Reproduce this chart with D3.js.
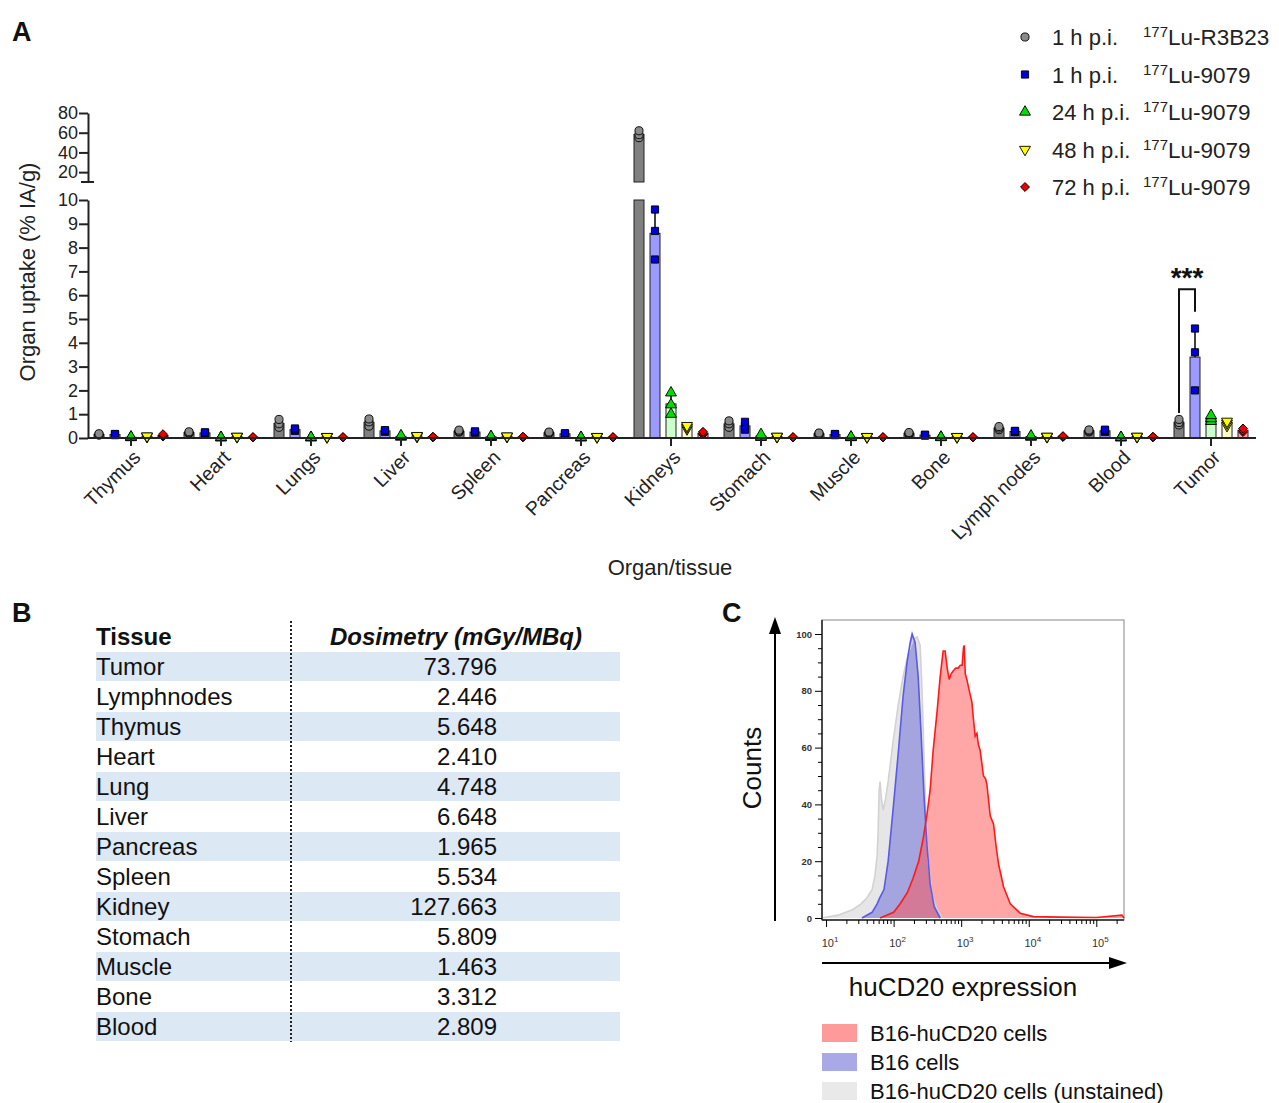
<!DOCTYPE html>
<html>
<head>
<meta charset="utf-8">
<script src="https://cdn.jsdelivr.net/npm/d3@7"></script>
<style>
  body { margin: 0; background: #fff; }
  svg { font-family: "Liberation Sans", Arial, sans-serif; }
</style>
</head>
<body>
<svg id="fig" width="1279" height="1103"></svg>
<script>
// ---- Panel A data: organ uptake (% IA/g), three animals per group ----
const organs = ["Thymus", "Heart", "Lungs", "Liver", "Spleen", "Pancreas", "Kidneys",
                "Stomach", "Muscle", "Bone", "Lymph nodes", "Blood", "Tumor"];
const seriesTime = ["1 h p.i.", "1 h p.i.", "24 h p.i.", "48 h p.i.", "72 h p.i."];
const seriesTracer = ["Lu-R3B23", "Lu-9079", "Lu-9079", "Lu-9079", "Lu-9079"];

const r3b23_1h = [[0.12,0.15,0.18],[0.2,0.22,0.26],[0.45,0.6,0.78],[0.5,0.68,0.8],[0.25,0.28,0.33],
  [0.19,0.22,0.25],[55,58,62],[0.45,0.6,0.72],[0.15,0.18,0.21],[0.17,0.2,0.23],[0.35,0.42,0.48],
  [0.26,0.3,0.34],[0.55,0.65,0.78]];
const lu9079_1h = [[0.12,0.15,0.17],[0.18,0.22,0.24],[0.3,0.35,0.4],[0.26,0.3,0.33],[0.22,0.25,0.28],
  [0.15,0.18,0.2],[7.5,8.7,9.6],[0.35,0.5,0.68],[0.12,0.15,0.17],[0.1,0.12,0.14],[0.24,0.28,0.3],
  [0.25,0.3,0.35],[2.0,3.6,4.6]];
const lu9079_24h = [[0.02,0.03,0.05],[0.01,0.02,0.03],[0.01,0.02,0.03],[0.04,0.07,0.1],[0.03,0.05,0.07],
  [0.01,0.02,0.03],[1.0,1.4,1.9],[0.03,0.05,0.15],[0.02,0.03,0.05],[0.02,0.03,0.04],[0.04,0.06,0.09],
  [0.01,0.02,0.03],[0.7,0.82,0.95]];
const lu9079_48h = [[0.06,0.07,0.08],[0.05,0.06,0.07],[0.04,0.05,0.06],[0.06,0.08,0.1],[0.06,0.07,0.08],
  [0.04,0.05,0.06],[0.38,0.45,0.52],[0.05,0.06,0.07],[0.04,0.05,0.06],[0.04,0.05,0.06],[0.05,0.06,0.07],
  [0.05,0.06,0.07],[0.52,0.62,0.7]];
const lu9079_72h = [[0.06,0.1,0.16],[0.02,0.03,0.04],[0.02,0.03,0.04],[0.03,0.04,0.05],[0.03,0.04,0.05],
  [0.02,0.03,0.04],[0.15,0.2,0.26],[0.02,0.03,0.04],[0.02,0.03,0.04],[0.02,0.03,0.04],[0.04,0.06,0.08],
  [0.03,0.04,0.05],[0.25,0.32,0.4]];
const allSeries = [r3b23_1h, lu9079_1h, lu9079_24h, lu9079_48h, lu9079_72h];

const lowTicks = [0,1,2,3,4,5,6,7,8,9,10];
const highTicks = [20,40,60,80];
// significance bracket: tumor, 1 h R3B23 vs 1 h 9079
const sigBracket = { organ: "Tumor", from: 0, to: 1, top: 6.25, leftEnd: 1.05, rightEnd: 5.3, label: "***" };

// ---- Panel B data ----
const tissues = ["Tumor", "Lymphnodes", "Thymus", "Heart", "Lung", "Liver", "Pancreas",
                 "Spleen", "Kidney", "Stomach", "Muscle", "Bone", "Blood"];
const dosimetry = [73.796, 2.446, 5.648, 2.410, 4.748, 6.648, 1.965, 5.534, 127.663, 5.809, 1.463, 3.312, 2.809];

// ---- Panel C data: flow cytometry histograms [huCD20 expression, % of max] ----
const unstained = [[8.7,0],[15,1],[25,3],[33,5],[40,7],[48,10],[53,15],[57,22],[59,30],[61,45],[63,48],
  [66,42],[70,38],[76,42],[83,48],[98,62],[117,75],[138,85],[164,93],[194,98],[223,99],[247,96],
  [264,80],[283,55],[303,35],[324,20],[372,8],[441,3],[523,0]];
const b16 = [[34,0],[48,2],[57,5],[62,7],[65,8],[72,10],[83,20],[98,38],[117,58],[138,78],[158,90],
  [176,97],[188,100],[208,97],[231,85],[255,65],[283,42],[313,25],[347,12],[398,4],[489,0]];
const b16huCD20 = [[63,0],[100,2],[125,5],[160,9],[194,14],[235,20],[274,28],[310,36],[347,45],[385,59],
  [441,73],[489,85],[541,94],[579,94],[621,88],[664,84],[710,86],[761,87],[830,88],[903,88],[970,89],
  [1035,89],[1080,95],[1107,96],[1150,86],[1213,84],[1320,80],[1441,76],[1520,70],[1612,64],[1709,65],
  [1800,61],[1911,59],[2140,50],[2300,49],[2403,47],[2691,36],[3015,33],[3300,25],[3574,19],[4238,11],
  [5325,5],[7482,1.7],[11670,0.5],[30000,0.3],[100000,0.2],[240000,1],[257000,0]];
const histLegend = ["B16-huCD20 cells", "B16 cells", "B16-huCD20 cells (unstained)"];

const svg = d3.select("#fig");

// ================= Panel A =================
const barFill = ["#808080", "#9a9aff", "#ccffcc", "#ffffcc", "#ff9f9f"];
const dotFill = ["#8a8a8a", "#0000d8", "#00dd00", "#ffff00", "#ee0000"];
const symType = [d3.symbolCircle, d3.symbolSquare, d3.symbolTriangle, d3.symbolTriangle, d3.symbolSquare];
const symRot = [0, 0, 0, 180, 45];

const x0 = d3.scaleBand().domain(organs).range([86, 1256]);
const x1 = d3.scaleBand().domain(d3.range(5)).range([-40, 40]);
const barW = 10;
const yLow = d3.scaleLinear().domain([0, 10]).range([438, 200]);
const yHigh = d3.scaleLinear().domain([10, 80]).range([182, 113]);
const yA = v => v <= 10 ? yLow(v) : yHigh(v);
const cx = (organ, s) => x0(organ) + x0.bandwidth() / 2 + x1(s) + x1.bandwidth() / 2;

const gA = svg.append("g");

// bars
allSeries.forEach((ser, s) => {
  ser.forEach((pts, j) => {
    const m = d3.mean(pts);
    const xc = cx(organs[j], s);
    if (m <= 10) {
      gA.append("rect").attr("x", xc - barW / 2).attr("y", yLow(m))
        .attr("width", barW).attr("height", yLow(0) - yLow(m))
        .attr("fill", barFill[s]).attr("stroke", "#222").attr("stroke-width", 1);
    } else {
      gA.append("rect").attr("x", xc - barW / 2).attr("y", yLow(10))
        .attr("width", barW).attr("height", yLow(0) - yLow(10))
        .attr("fill", barFill[s]).attr("stroke", "#222").attr("stroke-width", 1);
      gA.append("rect").attr("x", xc - barW / 2).attr("y", yHigh(m))
        .attr("width", barW).attr("height", yHigh(10) - yHigh(m))
        .attr("fill", barFill[s]).attr("stroke", "#222").attr("stroke-width", 1);
    }
  });
});

// error bars (mean + SD) and points
allSeries.forEach((ser, s) => {
  ser.forEach((pts, j) => {
    const m = d3.mean(pts), sd = d3.deviation(pts);
    const xc = cx(organs[j], s);
    gA.append("line").attr("x1", xc).attr("x2", xc).attr("y1", yA(m)).attr("y2", yA(m + sd))
      .attr("stroke", "#000").attr("stroke-width", 1.5);
    gA.append("line").attr("x1", xc - 3).attr("x2", xc + 3).attr("y1", yA(m + sd)).attr("y2", yA(m + sd))
      .attr("stroke", "#000").attr("stroke-width", 1.5);
    gA.selectAll(null).data(pts).enter().append("path")
      .attr("d", d3.symbol().type(symType[s]).size(s === 4 ? 40 : 52))
      .attr("transform", d => `translate(${xc},${yA(d)}) rotate(${symRot[s]})`)
      .attr("fill", dotFill[s]).attr("stroke", "#000").attr("stroke-width", 0.9);
  });
});

// axes
const axLow = gA.append("g").attr("transform", "translate(88,0)")
  .call(d3.axisLeft(yLow).tickValues(lowTicks).tickSize(9).tickSizeOuter(0));
const axHigh = gA.append("g").attr("transform", "translate(88,0)")
  .call(d3.axisLeft(yHigh).tickValues(highTicks).tickSize(9).tickSizeOuter(0));
[axLow, axHigh].forEach(a => {
  a.selectAll("path,line").attr("stroke", "#222").attr("stroke-width", 2);
  a.selectAll("text").style("font-size", "18px").attr("fill", "#222").attr("dx", "2px");
});
gA.append("line").attr("x1", 81).attr("x2", 94).attr("y1", yHigh(10)).attr("y2", yHigh(10))
  .attr("stroke", "#222").attr("stroke-width", 2);

const axX = gA.append("g").attr("transform", `translate(0,${yLow(0)})`)
  .call(d3.axisBottom(x0).tickSize(8).tickSizeOuter(0).tickFormat(""));
axX.select(".domain").attr("d", "M88,0H1256").attr("stroke", "#222").attr("stroke-width", 2);
axX.selectAll("line").attr("stroke", "#222").attr("stroke-width", 2);

gA.selectAll(".xlab").data(organs).enter().append("text")
  .attr("transform", d => `translate(${x0(d) + x0.bandwidth() / 2 + 1},${yLow(0) + 11}) rotate(-45)`)
  .attr("text-anchor", "end").attr("dy", "0.7em")
  .style("font-size", "19.5px").attr("fill", "#222").text(d => d);

gA.append("text").attr("transform", "translate(35,272) rotate(-90)").attr("text-anchor", "middle")
  .style("font-size", "22px").attr("fill", "#222").text("Organ uptake (% IA/g)");
gA.append("text").attr("x", 670).attr("y", 575).attr("text-anchor", "middle")
  .style("font-size", "22px").attr("fill", "#222").text("Organ/tissue");

// significance bracket
{
  const xl = cx(sigBracket.organ, sigBracket.from), xr = cx(sigBracket.organ, sigBracket.to);
  gA.append("path")
    .attr("d", `M${xl},${yA(sigBracket.leftEnd)}V${yA(sigBracket.top)}H${xr}V${yA(sigBracket.rightEnd)}`)
    .attr("fill", "none").attr("stroke", "#111").attr("stroke-width", 2);
  gA.append("text").attr("x", (xl + xr) / 2).attr("y", yA(sigBracket.top) - 2)
    .attr("text-anchor", "middle").style("font-size", "28px").style("font-weight", "bold")
    .attr("fill", "#111").text(sigBracket.label);
}

// legend
const legA = gA.append("g");
seriesTime.forEach((t, s) => {
  const yy = 37 + s * 37.5;
  legA.append("path").attr("d", d3.symbol().type(symType[s]).size(s === 4 ? 40 : 52))
    .attr("transform", `translate(1025,${yy}) rotate(${symRot[s]})`)
    .attr("fill", dotFill[s]).attr("stroke", "#000").attr("stroke-width", 0.9);
  legA.append("text").attr("x", 1052).attr("y", yy + 8).style("font-size", "22px").attr("fill", "#222").text(t);
  const tt = legA.append("text").attr("x", 1143).attr("y", yy + 8).style("font-size", "22.5px").attr("fill", "#222");
  tt.append("tspan").attr("dy", "-8").style("font-size", "15px").text("177");
  tt.append("tspan").attr("dy", "8").text(seriesTracer[s]);
});

// panel letters
[["A", 12, 41], ["B", 12, 622], ["C", 722, 622]].forEach(([l, xx, yy]) => {
  svg.append("text").attr("x", xx).attr("y", yy).style("font-size", "27px")
    .style("font-weight", "bold").attr("fill", "#111").text(l);
});

// ================= Panel B =================
const gB = svg.append("g");
const rowY = d3.scaleBand().domain(d3.range(tissues.length)).range([652, 652 + 30 * tissues.length]);
gB.selectAll(".band").data(tissues).enter().filter((d, i) => i % 2 === 0).append("rect")
  .attr("x", 96).attr("width", 524).attr("y", (d) => rowY(tissues.indexOf(d))).attr("height", 29)
  .attr("fill", "#dde8f5");
gB.append("text").attr("x", 96).attr("y", 645).style("font-size", "24px").style("font-weight", "bold")
  .attr("fill", "#111").text("Tissue");
gB.append("text").attr("x", 456).attr("y", 645).attr("text-anchor", "middle").style("font-size", "24px")
  .style("font-weight", "bold").style("font-style", "italic").attr("fill", "#111").text("Dosimetry (mGy/MBq)");
gB.selectAll(".tn").data(tissues).enter().append("text")
  .attr("x", 96).attr("y", (d, i) => rowY(i) + 23).style("font-size", "24px").attr("fill", "#111").text(d => d);
gB.selectAll(".tv").data(dosimetry).enter().append("text")
  .attr("x", 497).attr("y", (d, i) => rowY(i) + 23).attr("text-anchor", "end")
  .style("font-size", "24px").attr("fill", "#111").text(d => d3.format(".3f")(d));
gB.append("line").attr("x1", 291).attr("x2", 291).attr("y1", 621).attr("y2", 1042)
  .attr("stroke", "#222").attr("stroke-width", 2).attr("stroke-dasharray", "2,2");

// ================= Panel C =================
const gC = svg.append("g");
const xC = d3.scaleLog().domain([Math.pow(10, 0.94), Math.pow(10, 5.41)]).range([822, 1124]);
const yC = d3.scaleLinear().domain([0, 100]).range([918, 634]);

gC.append("rect").attr("x", 822).attr("y", 620).attr("width", 302).attr("height", 300)
  .attr("fill", "none").attr("stroke", "#9a9a9a").attr("stroke-width", 1.2);

const hists = [
  { data: unstained, fill: "rgba(205,205,205,0.5)", stroke: "#d2d2d2" },
  { data: b16, fill: "rgba(110,110,215,0.55)", stroke: "#5a5ae6" },
  { data: b16huCD20, fill: "rgba(255,80,80,0.5)", stroke: "#ff1a1a" }
];
const area = d3.area().x(d => xC(d[0])).y0(yC(0)).y1(d => yC(d[1]));
const line = d3.line().x(d => xC(d[0])).y(d => yC(d[1]));
hists.forEach(h => {
  gC.append("path").attr("d", area(h.data)).attr("fill", h.fill);
});
hists.forEach(h => {
  gC.append("path").attr("d", line(h.data)).attr("fill", "none").attr("stroke", h.stroke).attr("stroke-width", 1.6);
});

// y axis (counts)
const ayC = gC.append("g").attr("transform", "translate(822,0)")
  .call(d3.axisLeft(yC).tickValues(d3.range(0, 101, 20)).tickSize(7).tickSizeOuter(0));
ayC.selectAll("text").style("font-size", "9.5px").style("font-weight", "bold").attr("fill", "#333");
ayC.select(".domain").attr("d", "M0,620V920").attr("stroke", "#222").attr("stroke-width", 1.5);
gC.append("g").attr("transform", "translate(822,0)")
  .call(d3.axisLeft(yC).tickValues(d3.range(0, 101, 5).filter(v => v % 20)).tickSize(4).tickFormat(""))
  .call(g => g.select(".domain").remove());

// x axis (log)
const decades = [10, 100, 1000, 10000, 100000];
const minors = [];
decades.forEach(d => { for (let k = 2; k <= 9; k++) if (d * k < xC.domain()[1]) minors.push(d * k); });
const axC = gC.append("g").attr("transform", "translate(0,920)")
  .call(d3.axisBottom(xC).tickValues(decades).tickSize(7).tickSizeOuter(0).tickFormat(""));
axC.select(".domain").attr("d", "M822,0H1124").attr("stroke", "#222").attr("stroke-width", 1.5);
gC.append("g").attr("transform", "translate(0,920)")
  .call(d3.axisBottom(xC).tickValues(minors).tickSize(4).tickFormat(""))
  .call(g => g.select(".domain").remove());
decades.forEach((d, i) => {
  const t = gC.append("text").attr("x", xC(d) + 4).attr("y", 947).attr("text-anchor", "middle")
    .style("font-size", "11px").attr("fill", "#333");
  t.append("tspan").text("10");
  t.append("tspan").attr("dy", -5).style("font-size", "8px").text(i + 1);
});

// arrows and axis titles
const arrowHead = (pts) => gC.append("path").attr("d", "M" + pts.join("L") + "Z").attr("fill", "#000");
gC.append("line").attr("x1", 775).attr("x2", 775).attr("y1", 921).attr("y2", 630).attr("stroke", "#000").attr("stroke-width", 2);
arrowHead([[775, 617], [769, 634], [781, 634]]);
gC.append("line").attr("x1", 822).attr("x2", 1110).attr("y1", 963).attr("y2", 963).attr("stroke", "#000").attr("stroke-width", 2);
arrowHead([[1127, 963], [1109, 957], [1109, 969]]);
gC.append("text").attr("transform", "translate(761,768) rotate(-90)").attr("text-anchor", "middle")
  .style("font-size", "26px").attr("fill", "#111").text("Counts");
gC.append("text").attr("x", 963).attr("y", 996).attr("text-anchor", "middle")
  .style("font-size", "26px").attr("fill", "#111").text("huCD20 expression");

// legend C
const legFill = ["#ff9a9a", "#a9a9e8", "#e9e9e9"];
histLegend.forEach((t, i) => {
  const yy = 1033 + i * 29;
  gC.append("rect").attr("x", 822).attr("y", yy - 9).attr("width", 35).attr("height", 18).attr("fill", legFill[i]);
  gC.append("text").attr("x", 870).attr("y", yy + 8).style("font-size", "22px").attr("fill", "#111").text(t);
});
</script>
</body>
</html>
